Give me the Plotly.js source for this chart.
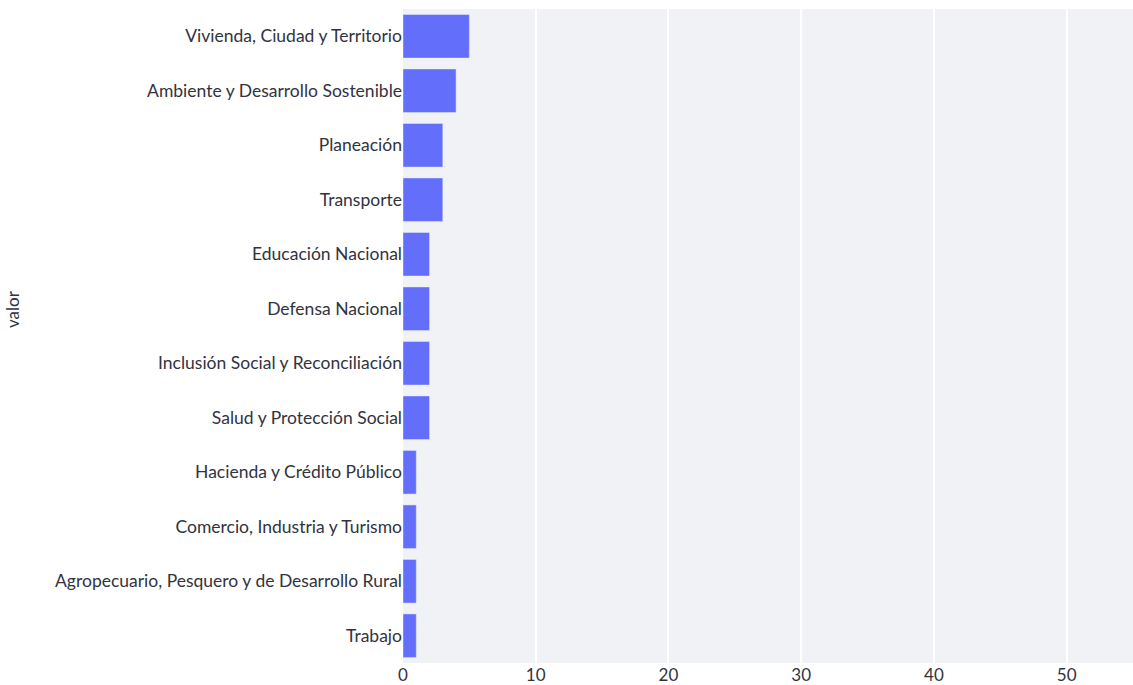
<!DOCTYPE html>
<html>
<head>
<meta charset="utf-8">
<script src="https://cdn.plot.ly/plotly-3.0.1.min.js"></script>
<style>html,body{margin:0;padding:0;background:#fff;}#chart{width:1133px;height:685px;}</style>
</head>
<body>
<div id="chart"></div>
<script>
const categories = [
  "Vivienda, Ciudad y Territorio",
  "Ambiente y Desarrollo Sostenible",
  "Planeación",
  "Transporte",
  "Educación Nacional",
  "Defensa Nacional",
  "Inclusión Social y Reconciliación",
  "Salud y Protección Social",
  "Hacienda y Crédito Público",
  "Comercio, Industria y Turismo",
  "Agropecuario, Pesquero y de Desarrollo Rural",
  "Trabajo"
];
const values = [5, 4, 3, 3, 2, 2, 2, 2, 1, 1, 1, 1];
const xTicks = [0, 10, 20, 30, 40, 50];
const yTitle = "valor";

const fontFamily = "Lato, 'Open Sans', sans-serif";
const textColor = "#31333F";
const trace = {
  type: "bar",
  orientation: "h",
  x: values,
  y: categories,
  marker: {color: "#636efa", line: {color: "#E5ECF6", width: 0.5}},
  hoverinfo: "x+y"
};
const layout = {
  width: 1133,
  height: 685,
  margin: {l: 403, r: 0, t: 9, b: 22, pad: 0},
  paper_bgcolor: "#ffffff",
  plot_bgcolor: "#f0f2f6",
  font: {family: fontFamily, size: 17.5, color: textColor},
  bargap: 0.2,
  showlegend: false,
  xaxis: {
    range: [0, 55],
    tickvals: xTicks,
    ticktext: xTicks.map(String),
    showgrid: true,
    gridcolor: "#ffffff",
    gridwidth: 2,
    zeroline: false,
    showline: false,
    ticks: "",
    automargin: false,
    tickfont: {family: fontFamily, size: 17, color: textColor}
  },
  yaxis: {
    autorange: "reversed",
    type: "category",
    showgrid: false,
    zeroline: false,
    ticks: "",
    automargin: false,
    tickfont: {family: fontFamily, size: 17.5, color: textColor}
  },
  annotations: [{
    text: yTitle,
    textangle: -90,
    xref: "paper", yref: "paper",
    x: (12 - 403) / 730, y: (663 - 309) / 654,
    xanchor: "center", yanchor: "middle",
    showarrow: false,
    font: {family: fontFamily, size: 17, color: textColor}
  }]
};
Plotly.newPlot("chart", [trace], layout, {displayModeBar: false});
</script>
</body>
</html>
